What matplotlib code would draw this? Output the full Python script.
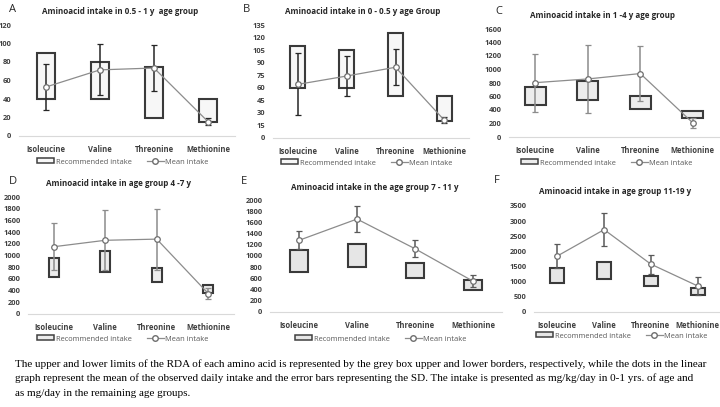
import numpy as np
import matplotlib.pyplot as plt
from matplotlib.patches import Patch
from matplotlib.lines import Line2D

plt.rcParams['font.family'] = ['Open Sans', 'DejaVu Sans']

amino = ['Isoleucine', 'Valine', 'Threonine', 'Methionine']

# A: 0.5 - 1 y (mg/kg/day)
a_low = [40, 40, 20, 15]
a_high = [90, 80, 75, 40]
a_mean = [53, 71.5, 73.5, 15.5]
a_sd = [25, 27.5, 24.5, 3.5]

# B: 0 - 0.5 y (mg/kg/day)
b_low = [60, 60, 50, 20]
b_high = [110, 105, 125, 50]
b_mean = [64, 74, 84.5, 21]
b_sd = [37, 24, 21.5, 3.5]

# C: 1 - 4 y (mg/day)
c_low = [480, 555, 410, 280]
c_high = [740, 830, 600, 390]
c_mean = [805, 860, 940, 210]
c_sd = [430, 505, 410, 75]

# D: 4 - 7 y
d_low = [630, 720, 540, 360]
d_high = [960, 1080, 780, 500]
d_mean = [1150, 1260, 1280, 350]
d_sd = [400, 515, 520, 90]

# E: 7 - 11 y
e_low = [710, 800, 600, 400]
e_high = [1100, 1220, 880, 580]
e_mean = [1280, 1660, 1130, 550]
e_sd = [160, 230, 150, 110]

# F: 11 - 19 y
f_low = [950, 1100, 850, 560]
f_high = [1450, 1650, 1200, 780]
f_mean = [1850, 2720, 1580, 860]
f_sd = [400, 545, 310, 290]

W, H = 720, 407
fig = plt.figure(figsize=(7.2, 4.07), dpi=100)


def panel(rect, letter, lpos, title, tpos, low, high, mean, sd, ymax, ystep,
          width, fill, ecol, leg_y, leg_x):
    left, top_px, wpx, bot_px = rect
    ax = fig.add_axes([left / W, 1 - bot_px / H, wpx / W, (bot_px - top_px) / H])
    x = np.arange(len(amino))
    low = np.array(low)
    high = np.array(high)
    ax.bar(x, high - low, bottom=low, width=width, facecolor=fill,
           edgecolor='#3a3a3a', linewidth=1.5, zorder=2)
    ax.errorbar(x, mean, yerr=sd, color='#8c8c8c', lw=0.9, marker='o', ms=4,
                mfc='white', mec='#6e6e6e', mew=0.9, ecolor=ecol, elinewidth=1.1,
                capsize=2, capthick=1.1, zorder=3)
    ax.set_xlim(-0.5, 3.5)
    ax.set_ylim(0, ymax)
    ax.set_yticks(np.arange(0, ymax + 1, ystep))
    ax.set_xticks(x)
    ax.set_xticklabels(amino, fontsize=5.5, fontweight='bold', color='#404040')
    for t in ax.get_yticklabels():
        t.set_fontsize(5.4)
        t.set_fontweight('bold')
        t.set_color('#404040')
    ax.tick_params(left=False, bottom=False, pad=2)
    ax.tick_params(axis='x', pad=3)
    for s in ['top', 'right', 'left']:
        ax.spines[s].set_visible(False)
    ax.spines['bottom'].set_color('#d9d9d9')
    ax.spines['bottom'].set_linewidth(0.8)
    fig.text(tpos[0] / W, 1 - tpos[1] / H, title, fontsize=5.8, fontweight='bold',
             color='#262626', ha='center', va='center')
    fig.text(lpos[0] / W, 1 - lpos[1] / H, letter, fontsize=8, ha='center',
             va='center', color='#262626')
    handles = [Patch(facecolor=fill, edgecolor='#404040', linewidth=1.1),
               Line2D([], [], color='#8c8c8c', lw=0.9, marker='o', ms=4,
                      mfc='white', mec='#6e6e6e')]
    fig.legend(handles, ['Recommended intake', 'Mean intake'],
               loc='center left', bbox_to_anchor=(leg_x / W, 1 - leg_y / H),
               ncol=2, frameon=False, fontsize=5.4, handlelength=2.3,
               handleheight=0.6, handletextpad=0.2, columnspacing=2.0,
               labelcolor='#595959', borderaxespad=0, borderpad=0)
    return ax


panel((19, 25, 216, 136), 'A', (13, 10), 'Aminoacid intake in 0.5 - 1 y  age group', (120, 11),
      a_low, a_high, a_mean, a_sd, 120, 20, 0.32, '#f7f7f7', '#262626', 162, 37)
panel((273, 25, 196, 138), 'B', (247, 10), 'Aminoacid intake in 0 - 0.5 y age Group', (363, 11),
      b_low, b_high, b_mean, b_sd, 135, 15, 0.32, '#f7f7f7', '#262626', 163, 281)
panel((509, 29, 210, 137), 'C', (499, 12), 'Aminoacid intake in 1 -4 y age group', (603, 15),
      c_low, c_high, c_mean, c_sd, 1600, 200, 0.4, '#ececec', '#8c8c8c', 163, 521)
panel((28, 197, 206, 314), 'D', (13, 182), 'Aminoacid intake in age group 4 -7 y', (119, 184),
      d_low, d_high, d_mean, d_sd, 2000, 200, 0.2, '#ececec', '#8c8c8c', 339, 37)
panel((270, 200, 232, 312), 'E', (244, 182), 'Aminoacid intake in the age group 7 - 11 y', (375, 187),
      e_low, e_high, e_mean, e_sd, 2000, 200, 0.32, '#e6e6e6', '#595959', 339, 295)
panel((534, 206, 187, 312), 'F', (497, 181), 'Aminoacid intake in age group 11-19 y', (615, 191),
      f_low, f_high, f_mean, f_sd, 3500, 500, 0.3, '#e6e6e6', '#595959', 336, 536)

caption = [
    'The upper and lower limits of the RDA of each amino acid is represented by the grey box upper and lower borders, respectively, while the dots in the linear',
    'graph represent the mean of the observed daily intake and the error bars representing the SD. The intake is presented as mg/kg/day in 0-1 yrs. of age and',
    'as mg/day in the remaining age groups.',
]
for i, line in enumerate(caption):
    fig.text(15 / W, 1 - (364 + 14.5 * i) / H, line, fontsize=8.0,
             family='Liberation Serif', ha='left', va='center', color='black')

fig.savefig('out.png', dpi=100, facecolor='white')
